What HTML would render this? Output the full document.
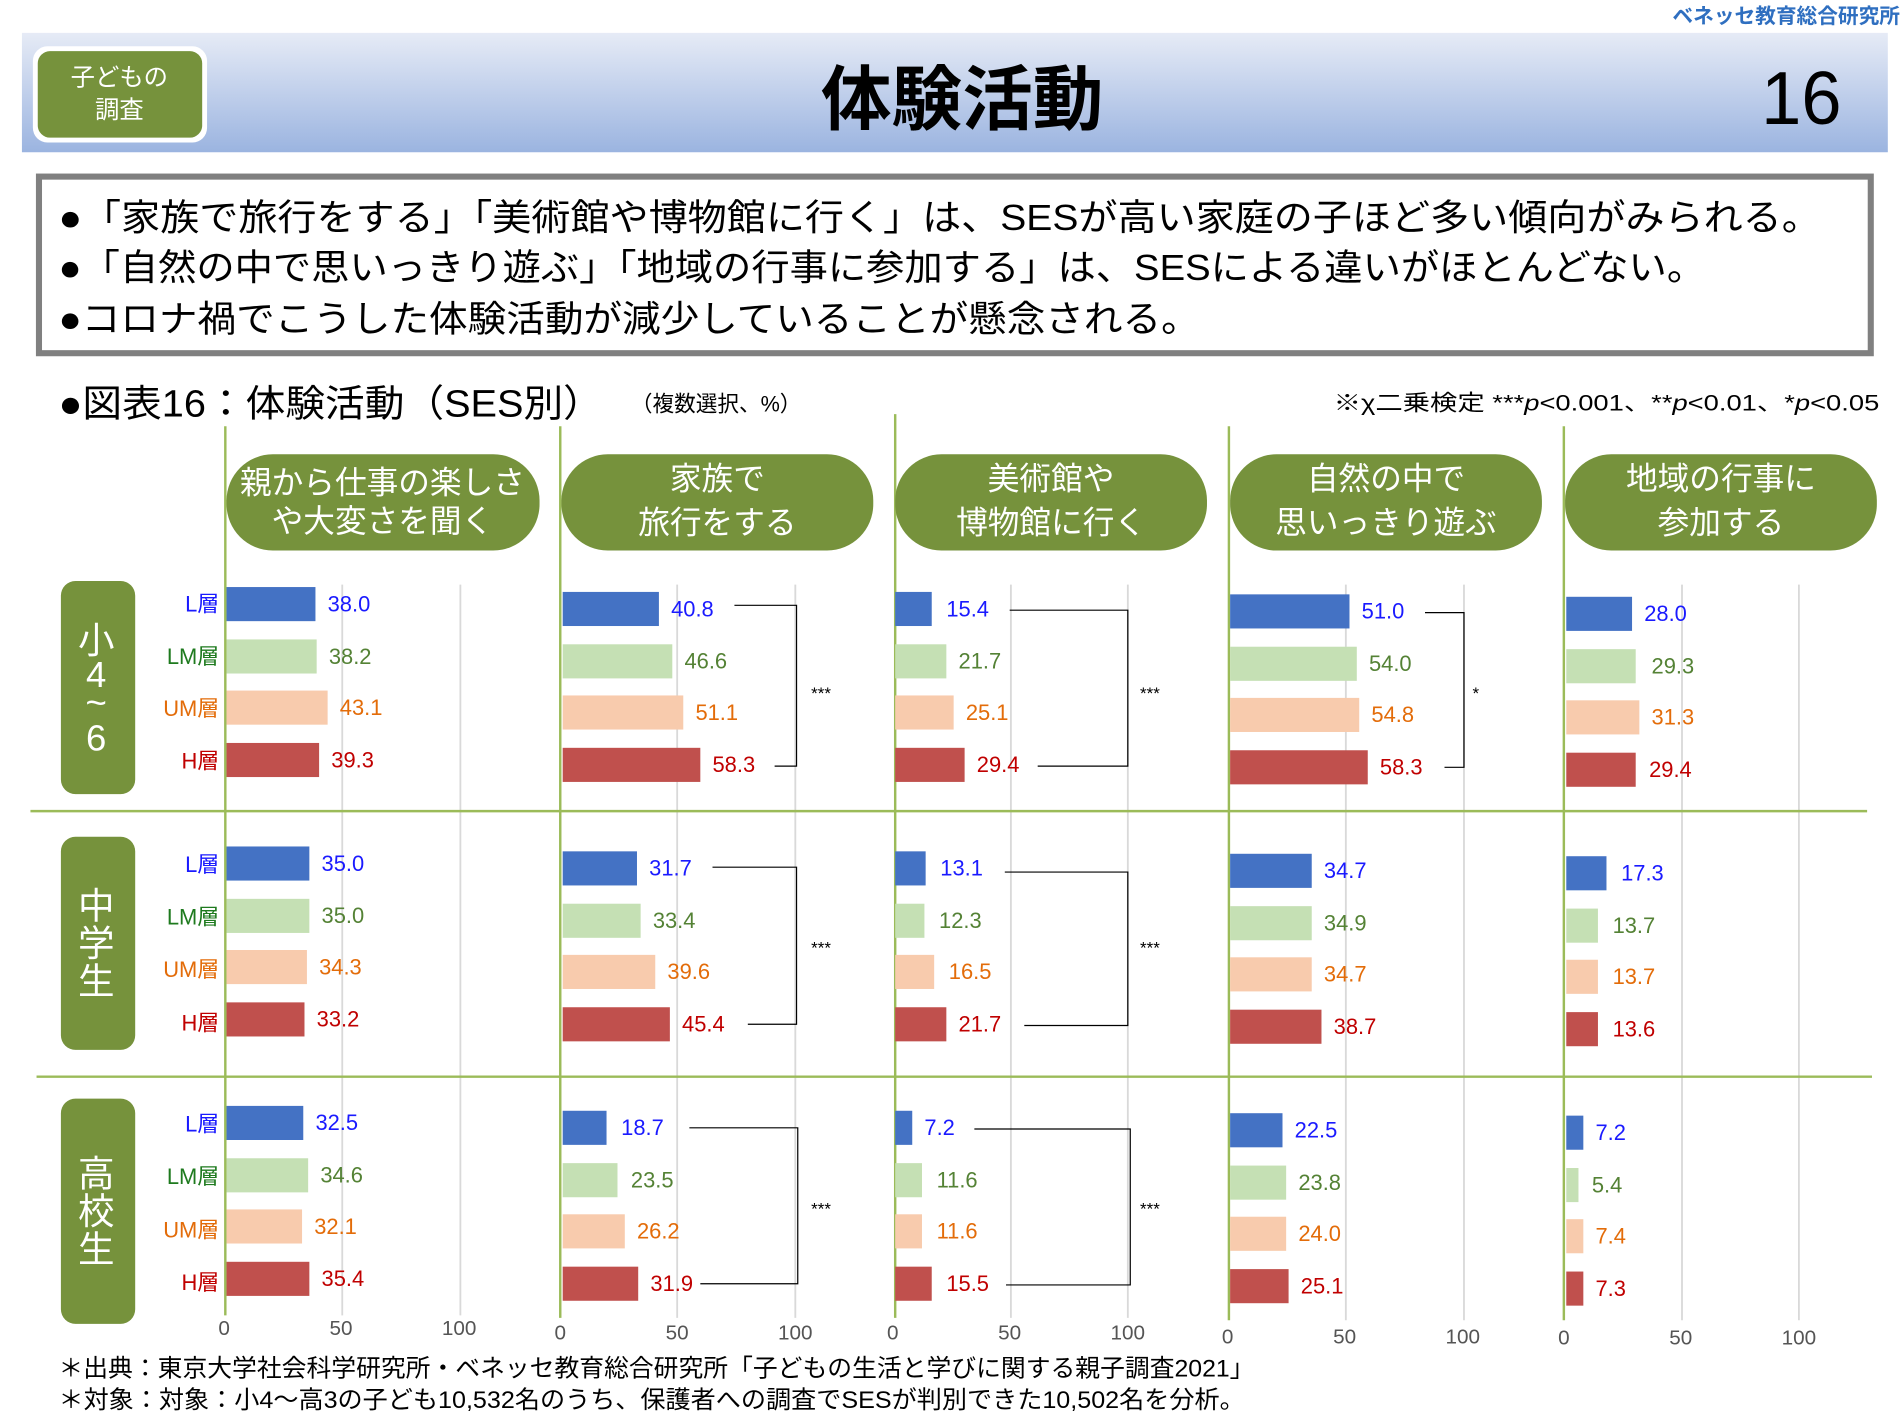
<!DOCTYPE html>
<html><head><meta charset="utf-8"><style>
html,body{margin:0;padding:0;background:#fff;}
svg{display:block;font-family:"Liberation Sans","Noto Sans CJK JP",sans-serif;}
.v{font-size:18px;}
.L{fill:#1a1aff}.LM{fill:#548235}.UM{fill:#e36c09}.H{fill:#c00000}
.bl{fill:#4472c4}.bg{fill:#c5e0b4}.bo{fill:#f8cbad}.br{fill:#c0504d}
.tk{font-size:17px;fill:#555;text-anchor:middle}
.hd{font-size:26px;fill:#fff;text-anchor:middle}
.gr{stroke:#d9d9d9;stroke-width:1.5}
.br2{stroke:#000;stroke-width:1;fill:none}
.tl{font-size:18px;text-anchor:end}
.vt{font-size:30px;fill:#fff;text-anchor:middle}
</style></head><body>
<svg width="1900" height="1425" viewBox="0 0 1560 1170" xmlns="http://www.w3.org/2000/svg">
<defs><linearGradient id="hg" x1="0" y1="0" x2="0" y2="1"><stop offset="0" stop-color="#e6ebf6"/><stop offset="1" stop-color="#9bb4e0"/></linearGradient></defs>
<text x="1560" y="19" font-size="17" font-weight="bold" fill="#2f6fc0" text-anchor="end">ベネッセ教育総合研究所</text>
<rect x="18" y="27" width="1532" height="98" fill="url(#hg)"/>
<rect x="27" y="38" width="143" height="79" rx="12" fill="#fff"/>
<rect x="31" y="42" width="135" height="71" rx="10" fill="#76923c"/>
<text x="98" y="70" font-size="20" fill="#fff" text-anchor="middle">子どもの</text>
<text x="98" y="97" font-size="20" fill="#fff" text-anchor="middle">調査</text>
<text x="790" y="102" font-size="58" font-weight="bold" text-anchor="middle">体験活動</text>
<text x="1512" y="102" font-size="62" text-anchor="end" textLength="66" lengthAdjust="spacingAndGlyphs">16</text>
<rect x="32" y="145" width="1504" height="145" fill="#fff" stroke="#808080" stroke-width="5"/>
<text x="48" y="189" font-size="30" textLength="1447" lengthAdjust="spacingAndGlyphs">●「家族で旅行をする」「美術館や博物館に行く」は、SESが高い家庭の子ほど多い傾向がみられる。</text>
<text x="48" y="230" font-size="30" textLength="1352" lengthAdjust="spacingAndGlyphs">●「自然の中で思いっきり遊ぶ」「地域の行事に参加する」は、SESによる違いがほとんどない。</text>
<text x="48" y="272" font-size="30" textLength="937" lengthAdjust="spacingAndGlyphs">●コロナ禍でこうした体験活動が減少していることが懸念される。</text>
<text x="48" y="342" font-size="31" textLength="447" lengthAdjust="spacingAndGlyphs">●図表16：体験活動（SES別）</text>
<text x="518" y="338" font-size="18" textLength="140" lengthAdjust="spacingAndGlyphs">（複数選択、%）</text>
<text x="1095" y="337" font-size="18" textLength="448" lengthAdjust="spacingAndGlyphs">※χ二乗検定  ***<tspan font-style="italic">p</tspan>&lt;0.001、**<tspan font-style="italic">p</tspan>&lt;0.01、*<tspan font-style="italic">p</tspan>&lt;0.05</text>

<g class="gr">
<line x1="281" y1="480" x2="281" y2="1080"/><line x1="378" y1="480" x2="378" y2="1080"/>
<line x1="556" y1="480" x2="556" y2="1082"/><line x1="653" y1="480" x2="653" y2="1082"/>
<line x1="830" y1="480" x2="830" y2="1082"/><line x1="926" y1="480" x2="926" y2="1082"/>
<line x1="1105" y1="480" x2="1105" y2="1084"/><line x1="1202" y1="480" x2="1202" y2="1084"/>
<line x1="1381" y1="480" x2="1381" y2="1084"/><line x1="1477" y1="480" x2="1477" y2="1084"/>
</g>
<g stroke="#9bbb59" stroke-width="2">
<line x1="185" y1="350" x2="185" y2="1080"/><line x1="460" y1="350" x2="460" y2="1082"/>
<line x1="735" y1="340" x2="735" y2="1082"/><line x1="1009" y1="350" x2="1009" y2="1084"/>
<line x1="1284" y1="350" x2="1284" y2="1084"/>
<line x1="25" y1="666" x2="1533" y2="666"/><line x1="30" y1="884" x2="1537" y2="884"/>
</g>

<g fill="#76923c">
<rect x="186" y="373" width="257" height="79" rx="38"/><rect x="461" y="373" width="256" height="79" rx="38"/>
<rect x="735" y="373" width="256" height="79" rx="38"/><rect x="1010" y="373" width="256" height="79" rx="38"/>
<rect x="1285" y="373" width="256" height="79" rx="38"/>
</g>
<text class="hd" x="314" y="405">親から仕事の楽しさ</text><text class="hd" x="314" y="437">や大変さを聞く</text>
<text class="hd" x="589" y="402">家族で</text><text class="hd" x="589" y="438">旅行をする</text>
<text class="hd" x="863" y="402">美術館や</text><text class="hd" x="863" y="438">博物館に行く</text>
<text class="hd" x="1138" y="402">自然の中で</text><text class="hd" x="1138" y="438">思いっきり遊ぶ</text>
<text class="hd" x="1413" y="402">地域の行事に</text><text class="hd" x="1413" y="438">参加する</text>

<g fill="#76923c"><rect x="50" y="477" width="61" height="175" rx="12"/><rect x="50" y="687" width="61" height="175" rx="12"/><rect x="50" y="902" width="61" height="185" rx="12"/></g>
<text class="vt" x="79" y="536">小</text><text class="vt" x="79" y="564">4</text><text class="vt" x="79" y="587">~</text><text class="vt" x="79" y="616">6</text>
<text class="vt" x="79" y="754">中</text><text class="vt" x="79" y="785">学</text><text class="vt" x="79" y="816">生</text>
<text class="vt" x="79" y="974">高</text><text class="vt" x="79" y="1005">校</text><text class="vt" x="79" y="1036">生</text>

<g class="tl">
<text x="180" y="502" class="L">L層</text><text x="180" y="545" style="fill:#1e7a1e">LM層</text><text x="180" y="588" class="UM">UM層</text><text x="180" y="631" class="H">H層</text>
<text x="180" y="716" class="L">L層</text><text x="180" y="759" style="fill:#1e7a1e">LM層</text><text x="180" y="802" class="UM">UM層</text><text x="180" y="846" class="H">H層</text>
<text x="180" y="929" class="L">L層</text><text x="180" y="972" style="fill:#1e7a1e">LM層</text><text x="180" y="1016" class="UM">UM層</text><text x="180" y="1059" class="H">H層</text>
</g>

<g transform="translate(186,482)" class="v">
<rect class="bl" y="0" width="73" height="28"/><text class="L" x="83" y="20">38.0</text>
<rect class="bg" y="43" width="74" height="28"/><text class="LM" x="84" y="63">38.2</text>
<rect class="bo" y="85" width="83" height="28"/><text class="UM" x="93" y="105">43.1</text>
<rect class="br" y="128" width="76" height="28"/><text class="H" x="86" y="148">39.3</text>
</g>
<g transform="translate(186,695)" class="v">
<rect class="bl" y="0" width="68" height="28"/><text class="L" x="78" y="20">35.0</text>
<rect class="bg" y="43" width="68" height="28"/><text class="LM" x="78" y="63">35.0</text>
<rect class="bo" y="85" width="66" height="28"/><text class="UM" x="76" y="105">34.3</text>
<rect class="br" y="128" width="64" height="28"/><text class="H" x="74" y="148">33.2</text>
</g>
<g transform="translate(186,908)" class="v">
<rect class="bl" y="0" width="63" height="28"/><text class="L" x="73" y="20">32.5</text>
<rect class="bg" y="43" width="67" height="28"/><text class="LM" x="77" y="63">34.6</text>
<rect class="bo" y="85" width="62" height="28"/><text class="UM" x="72" y="105">32.1</text>
<rect class="br" y="128" width="68" height="28"/><text class="H" x="78" y="148">35.4</text>
</g>
<g transform="translate(462,486)" class="v">
<rect class="bl" y="0" width="79" height="28"/><text class="L" x="89" y="20">40.8</text>
<rect class="bg" y="43" width="90" height="28"/><text class="LM" x="100" y="63">46.6</text>
<rect class="bo" y="85" width="99" height="28"/><text class="UM" x="109" y="105">51.1</text>
<rect class="br" y="128" width="113" height="28"/><text class="H" x="123" y="148">58.3</text>
</g>
<g transform="translate(462,699)" class="v">
<rect class="bl" y="0" width="61" height="28"/><text class="L" x="71" y="20">31.7</text>
<rect class="bg" y="43" width="64" height="28"/><text class="LM" x="74" y="63">33.4</text>
<rect class="bo" y="85" width="76" height="28"/><text class="UM" x="86" y="105">39.6</text>
<rect class="br" y="128" width="88" height="28"/><text class="H" x="98" y="148">45.4</text>
</g>
<g transform="translate(462,912)" class="v">
<rect class="bl" y="0" width="36" height="28"/><text class="L" x="48" y="20">18.7</text>
<rect class="bg" y="43" width="45" height="28"/><text class="LM" x="56" y="63">23.5</text>
<rect class="bo" y="85" width="51" height="28"/><text class="UM" x="61" y="105">26.2</text>
<rect class="br" y="128" width="62" height="28"/><text class="H" x="72" y="148">31.9</text>
</g>
<g transform="translate(735,486)" class="v">
<rect class="bl" y="0" width="30" height="28"/><text class="L" x="42" y="20">15.4</text>
<rect class="bg" y="43" width="42" height="28"/><text class="LM" x="52" y="63">21.7</text>
<rect class="bo" y="85" width="48" height="28"/><text class="UM" x="58" y="105">25.1</text>
<rect class="br" y="128" width="57" height="28"/><text class="H" x="67" y="148">29.4</text>
</g>
<g transform="translate(735,699)" class="v">
<rect class="bl" y="0" width="25" height="28"/><text class="L" x="37" y="20">13.1</text>
<rect class="bg" y="43" width="24" height="28"/><text class="LM" x="36" y="63">12.3</text>
<rect class="bo" y="85" width="32" height="28"/><text class="UM" x="44" y="105">16.5</text>
<rect class="br" y="128" width="42" height="28"/><text class="H" x="52" y="148">21.7</text>
</g>
<g transform="translate(735,912)" class="v">
<rect class="bl" y="0" width="14" height="28"/><text class="L" x="24" y="20">7.2</text>
<rect class="bg" y="43" width="22" height="28"/><text class="LM" x="34" y="63">11.6</text>
<rect class="bo" y="85" width="22" height="28"/><text class="UM" x="34" y="105">11.6</text>
<rect class="br" y="128" width="30" height="28"/><text class="H" x="42" y="148">15.5</text>
</g>
<g transform="translate(1010,488)" class="v">
<rect class="bl" y="0" width="98" height="28"/><text class="L" x="108" y="20">51.0</text>
<rect class="bg" y="43" width="104" height="28"/><text class="LM" x="114" y="63">54.0</text>
<rect class="bo" y="85" width="106" height="28"/><text class="UM" x="116" y="105">54.8</text>
<rect class="br" y="128" width="113" height="28"/><text class="H" x="123" y="148">58.3</text>
</g>
<g transform="translate(1010,701)" class="v">
<rect class="bl" y="0" width="67" height="28"/><text class="L" x="77" y="20">34.7</text>
<rect class="bg" y="43" width="67" height="28"/><text class="LM" x="77" y="63">34.9</text>
<rect class="bo" y="85" width="67" height="28"/><text class="UM" x="77" y="105">34.7</text>
<rect class="br" y="128" width="75" height="28"/><text class="H" x="85" y="148">38.7</text>
</g>
<g transform="translate(1010,914)" class="v">
<rect class="bl" y="0" width="43" height="28"/><text class="L" x="53" y="20">22.5</text>
<rect class="bg" y="43" width="46" height="28"/><text class="LM" x="56" y="63">23.8</text>
<rect class="bo" y="85" width="46" height="28"/><text class="UM" x="56" y="105">24.0</text>
<rect class="br" y="128" width="48" height="28"/><text class="H" x="58" y="148">25.1</text>
</g>
<g transform="translate(1286,490)" class="v">
<rect class="bl" y="0" width="54" height="28"/><text class="L" x="64" y="20">28.0</text>
<rect class="bg" y="43" width="57" height="28"/><text class="LM" x="70" y="63">29.3</text>
<rect class="bo" y="85" width="60" height="28"/><text class="UM" x="70" y="105">31.3</text>
<rect class="br" y="128" width="57" height="28"/><text class="H" x="68" y="148">29.4</text>
</g>
<g transform="translate(1286,703)" class="v">
<rect class="bl" y="0" width="33" height="28"/><text class="L" x="45" y="20">17.3</text>
<rect class="bg" y="43" width="26" height="28"/><text class="LM" x="38" y="63">13.7</text>
<rect class="bo" y="85" width="26" height="28"/><text class="UM" x="38" y="105">13.7</text>
<rect class="br" y="128" width="26" height="28"/><text class="H" x="38" y="148">13.6</text>
</g>
<g transform="translate(1286,916)" class="v">
<rect class="bl" y="0" width="14" height="28"/><text class="L" x="24" y="20">7.2</text>
<rect class="bg" y="43" width="10" height="28"/><text class="LM" x="21" y="63">5.4</text>
<rect class="bo" y="85" width="14" height="28"/><text class="UM" x="24" y="105">7.4</text>
<rect class="br" y="128" width="14" height="28"/><text class="H" x="24" y="148">7.3</text>
</g>

<g class="br2">
<polyline points="603,497 654,497 654,629 636,629"/>
<polyline points="585,712 654,712 654,841 614,841"/>
<polyline points="566,926 655,926 655,1054 575,1054"/>
<polyline points="829,501 926,501 926,629 852,629"/>
<polyline points="825,716 926,716 926,842 841,842"/>
<polyline points="800,927 928,927 928,1055 826,1055"/>
<polyline points="1170,503 1202,503 1202,630 1186,630"/>
</g>
<g font-size="14">
<text x="666" y="574">***</text><text x="666" y="783">***</text><text x="666" y="997">***</text>
<text x="936" y="574">***</text><text x="936" y="783">***</text><text x="936" y="997">***</text>
<text x="1209" y="574">*</text>
</g>

<text class="tk" x="184" y="1096">0</text><text class="tk" x="280" y="1096">50</text><text class="tk" x="377" y="1096">100</text>
<text class="tk" x="460" y="1100">0</text><text class="tk" x="556" y="1100">50</text><text class="tk" x="653" y="1100">100</text>
<text class="tk" x="733" y="1100">0</text><text class="tk" x="829" y="1100">50</text><text class="tk" x="926" y="1100">100</text>
<text class="tk" x="1008" y="1103">0</text><text class="tk" x="1104" y="1103">50</text><text class="tk" x="1201" y="1103">100</text>
<text class="tk" x="1284" y="1104">0</text><text class="tk" x="1380" y="1104">50</text><text class="tk" x="1477" y="1104">100</text>

<text x="48" y="1130" font-size="20" textLength="982" lengthAdjust="spacingAndGlyphs">＊出典：東京大学社会科学研究所・ベネッセ教育総合研究所「子どもの生活と学びに関する親子調査2021」</text>
<text x="48" y="1156" font-size="20" textLength="974" lengthAdjust="spacingAndGlyphs">＊対象：対象：小4～高3の子ども10,532名のうち、保護者への調査でSESが判別できた10,502名を分析。</text>
</svg>
</body></html>
